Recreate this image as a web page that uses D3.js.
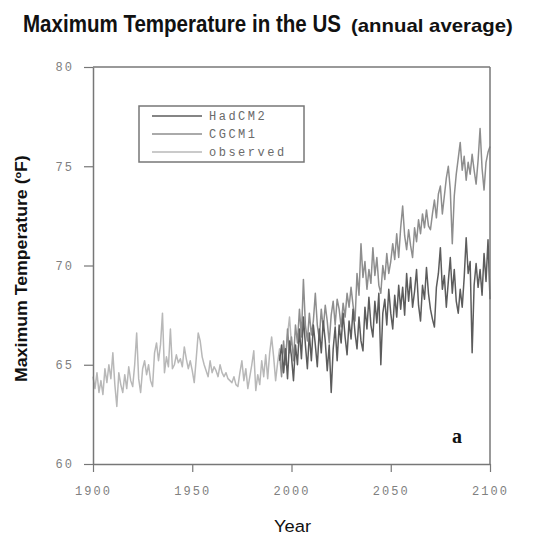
<!DOCTYPE html>
<html>
<head>
<meta charset="utf-8">
<script src="https://cdn.jsdelivr.net/npm/d3@7"></script>
<style>
  html, body { margin: 0; padding: 0; background: #fff; }
  svg { display: block; }
</style>
</head>
<body>
<svg id="chart" width="551" height="535"></svg>
<script>
// Annual average maximum temperature (°F), contiguous US
const observedYears = d3.range(1900, 2001);
const observed = [
  64.4, 63.8, 64.6, 63.6, 64.2, 63.5, 64.8, 64.1, 65.0, 64.3,
  65.6, 64.0, 62.9, 64.6, 64.0, 63.6, 64.5, 63.8, 64.9, 64.2,
  63.9, 65.0, 66.6, 64.3, 63.6, 64.8, 65.2, 64.5, 65.0, 64.2,
  63.9, 65.6, 66.1, 65.2, 66.0, 67.6, 64.6, 65.4, 64.9, 66.8,
  64.8, 65.0, 65.5, 65.1, 65.3, 64.9, 65.9, 65.3, 64.8, 65.2,
  64.7, 64.1, 65.3, 66.6, 66.2, 65.4, 65.0, 64.7, 64.4, 65.2,
  64.6, 64.9, 64.7, 64.4, 65.0, 64.6, 64.4, 64.6, 64.3, 64.2,
  64.1, 64.4, 64.0, 63.9, 64.6, 65.2, 64.2, 64.8, 63.8, 64.4,
  65.0, 65.7, 63.7, 64.5, 64.0, 65.2, 64.4, 65.5, 64.3, 65.6,
  66.4, 65.4, 64.2, 65.1, 65.8, 65.0, 64.6, 65.4, 66.5, 67.4,
  66.0
];

// Model projections
const modelYears = d3.range(1994, 2101);
const cgcm1 = [
  65.5, 64.4, 66.2, 65.0, 66.8, 65.6,
  66.4, 65.2, 67.0, 66.1, 67.8, 66.4, 69.3, 67.0, 66.2, 67.6,
  66.5, 67.2, 68.6, 67.0, 66.3, 67.8, 66.8, 68.0, 67.2, 66.1,
  67.5, 68.2, 67.0, 68.3, 67.8, 66.9, 68.1, 67.4, 68.6, 67.9,
  68.9, 68.0, 67.2, 69.6, 68.5, 71.1, 69.4, 70.2, 68.8, 69.8,
  69.1, 70.9, 69.5, 70.4, 69.0, 68.6, 70.0, 69.3, 70.6, 69.6,
  70.2, 71.1, 70.3, 71.6, 70.4, 71.9, 73.0, 71.5, 70.8, 71.8,
  71.0, 70.4, 71.9, 71.2, 72.3, 71.6, 72.6, 71.9, 72.8, 72.0,
  71.8, 72.6, 73.3, 72.4, 73.6, 74.0, 72.6, 73.5, 74.4, 75.0,
  73.8, 71.1, 73.5, 74.6, 75.4, 76.2, 74.8, 75.5, 74.3, 75.2,
  74.6, 75.6, 74.8, 74.1, 75.3, 76.9, 74.9, 73.8, 75.2, 75.7,
  76.0
];
const hadcm2 = [
  65.2, 66.0, 64.6, 65.8, 64.3, 66.2,
  65.4, 64.2, 66.0, 65.0, 66.8, 65.3, 67.4, 66.0, 64.8, 66.6,
  65.2, 67.0, 66.0, 64.9, 66.8, 65.6, 67.2, 66.2, 64.7, 66.0,
  63.6, 65.8, 66.9, 65.2, 67.0, 66.1, 67.6, 66.4, 65.5, 67.2,
  66.3, 67.8, 66.6, 65.8, 67.4, 66.2, 65.7, 67.9, 66.8, 68.4,
  67.0, 66.4, 68.2, 67.1, 68.6, 65.0, 67.6, 68.3, 67.0, 68.8,
  67.6, 66.8, 68.5, 67.4, 69.0, 67.8, 68.9, 67.5, 69.6, 68.2,
  69.4, 67.9, 68.7, 69.8, 68.0, 67.2, 69.0, 68.3, 69.9, 68.6,
  67.8, 67.3, 66.9, 68.9, 69.6, 70.9, 68.8, 69.5, 67.9, 69.2,
  70.4, 68.6, 69.8, 68.2, 67.6, 68.8, 67.9, 69.4, 71.4, 69.6,
  70.2, 65.6, 69.0, 70.1, 68.9, 69.8, 68.5, 70.6, 69.2, 71.3,
  68.3
];

const xTicks = [1900, 1950, 2000, 2050, 2100];
const yTicks = [60, 65, 70, 75, 80];
const seriesNames = ["HadCM2", "CGCM1", "observed"];
const seriesColors = ["#5c5c5c", "#8e8e8e", "#b8b8b8"];

const svg = d3.select("#chart");

const x = d3.scaleLinear().domain([1900, 2100]).range([93, 490]);
const y = d3.scaleLinear().domain([60, 80]).range([464, 67]);

const sans = '"Liberation Sans", Arial, sans-serif';
const mono = '"Liberation Mono", "DejaVu Sans Mono", monospace';

// Condensed-looking text: draw at the origin, then squeeze horizontally to a target width
function narrowText(parent, opts) {
  const t = parent.append("text")
    .attr("font-family", sans)
    .attr("font-weight", opts.weight || "normal")
    .attr("font-size", opts.size)
    .attr("fill", "#111")
    .text(opts.text);
  const natural = t.node().getComputedTextLength();
  const k = opts.width / natural;
  t.attr("transform", `translate(${opts.x},${opts.y})${opts.rotate ? " rotate(-90)" : ""} scale(${k},1)`);
  return t;
}

// Title
narrowText(svg, { x: 23, y: 32, size: 24, weight: "bold", width: 318, text: "Maximum Temperature in the US" });
narrowText(svg, { x: 351, y: 32, size: 18, weight: "bold", width: 162, text: "(annual average)" });

// Series lines
const line = d3.line().x(d => x(d[0])).y(d => y(d[1]));
const seriesData = [
  modelYears.map((yr, i) => [yr, hadcm2[i]]),
  modelYears.map((yr, i) => [yr, cgcm1[i]]),
  observedYears.map((yr, i) => [yr, observed[i]])
];
// observed first, then CGCM1, then HadCM2 on top
[2, 1, 0].forEach(k => {
  svg.append("path")
    .datum(seriesData[k])
    .attr("d", line)
    .attr("fill", "none")
    .attr("stroke", seriesColors[k])
    .attr("stroke-width", 1.5)
    .attr("stroke-linejoin", "round");
});

// Frame (top and right)
svg.append("line").attr("x1", x(1900)).attr("x2", x(2100)).attr("y1", y(80)).attr("y2", y(80))
  .attr("stroke", "#777").attr("stroke-width", 1.5);
svg.append("line").attr("x1", x(2100)).attr("x2", x(2100)).attr("y1", y(80)).attr("y2", y(60))
  .attr("stroke", "#777").attr("stroke-width", 1.5);

// Axes
const xAxis = svg.append("g")
  .attr("transform", `translate(0,${y(60)})`)
  .call(d3.axisBottom(x).tickValues(xTicks).tickFormat(d3.format("d")).tickSize(8).tickSizeOuter(0).tickPadding(14));
const yAxis = svg.append("g")
  .attr("transform", `translate(${x(1900)},0)`)
  .call(d3.axisLeft(y).tickValues(yTicks).tickSize(9).tickSizeOuter(0).tickPadding(10));

[xAxis, yAxis].forEach(g => {
  g.select(".domain").attr("stroke", "#777").attr("stroke-width", 1.5);
  g.selectAll(".tick line").attr("stroke", "#777").attr("stroke-width", 1.2);
  g.selectAll(".tick text")
    .attr("font-family", mono)
    .attr("font-size", 12)
    .attr("letter-spacing", "2px")
    .attr("fill", "#808080");
});

// Axis titles
narrowText(svg, { x: 274, y: 532, size: 17, width: 37, text: "Year" });
narrowText(svg, { x: 27, y: 382, size: 16, weight: "bold", width: 227, rotate: true, text: "Maximum Temperature (ºF)" });

// Panel label
svg.append("text")
  .attr("x", 452).attr("y", 443)
  .attr("font-family", '"Liberation Serif", serif')
  .attr("font-weight", "bold")
  .attr("font-size", 20)
  .attr("fill", "#111")
  .text("a");

// Legend
const legend = svg.append("g").attr("transform", "translate(139,106)");
legend.append("rect")
  .attr("width", 165).attr("height", 56)
  .attr("fill", "#fff")
  .attr("stroke", "#777").attr("stroke-width", 1.5);
seriesNames.forEach((name, i) => {
  const yy = 10 + i * 18;
  legend.append("line")
    .attr("x1", 13).attr("x2", 63).attr("y1", yy).attr("y2", yy)
    .attr("stroke", seriesColors[i]).attr("stroke-width", 1.5);
  legend.append("text")
    .attr("x", 70).attr("y", yy + 4)
    .attr("font-family", mono)
    .attr("font-size", 12)
    .attr("letter-spacing", "2.5px")
    .attr("fill", "#6a6a6a")
    .text(name);
});
</script>
</body>
</html>
